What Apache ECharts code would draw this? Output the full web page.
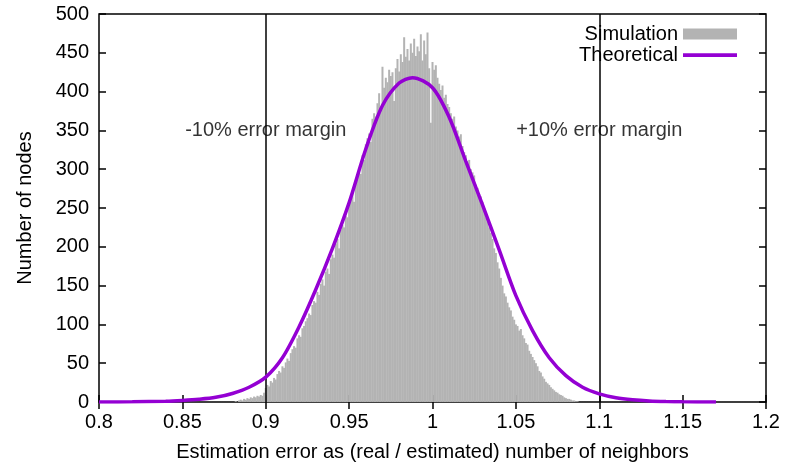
<!DOCTYPE html>
<html>
<head>
<meta charset="utf-8">
<script src="https://cdn.jsdelivr.net/npm/echarts@6/dist/echarts.min.js"></script>
</head>
<body style="margin:0;background:#fff;">
<div id="main" style="width:788px;height:470px;"></div>
<script type="text/javascript">
    // histogram of simulated nodes, bins of 0.001 starting at 0.882
    var binStart = 0.882;
    var binWidth = 0.001;
    var simCounts = [
        1, 0, 2, 3, 2, 4, 3, 5, 4, 6,
        5, 7, 6, 8, 7, 9, 8, 12, 18, 22,
        20, 27, 25, 31, 29, 36, 40, 38, 46, 44,
        51, 56, 53, 63, 68, 72, 70, 82, 86, 84,
        95, 98, 104, 108, 114, 112, 125, 130, 128, 142,
        138, 152, 158, 150, 168, 172, 165, 184, 190, 186,
        204, 210, 198, 222, 228, 225, 240, 238, 255, 262,
        270, 258, 286, 292, 300, 294, 318, 312, 332, 340,
        346, 335, 365, 372, 368, 385, 398, 380, 432, 405,
        418, 412, 428, 420, 425, 388, 430, 442, 426, 448,
        438, 470, 445, 455, 440, 462, 450, 468, 446, 458,
        452, 474, 440, 466, 448, 476, 430, 360, 438, 428,
        434, 418, 410, 402, 408, 392, 396, 384, 380, 372,
        365, 368, 355, 350, 342, 345, 330, 322, 318, 310,
        312, 300, 296, 292, 280, 276, 268, 265, 258, 250,
        238, 232, 225, 218, 210, 198, 192, 180, 172, 160,
        150, 140, 136, 128, 122, 118, 110, 106, 100, 98,
        92, 94, 86, 82, 76, 74, 66, 62, 58, 54,
        50, 46, 40, 38, 33, 30, 26, 24, 22, 19,
        17, 15, 13, 12, 10, 9, 8, 6, 5, 4,
        4, 3, 2, 2, 1, 1
    ];

    // theoretical curve
    var theoX = [0.80, 0.82, 0.84, 0.85, 0.86, 0.87, 0.88, 0.89, 0.90, 0.91,
        0.92, 0.93, 0.94, 0.95, 0.96, 0.97, 0.98, 0.988, 1.00, 1.01,
        1.02, 1.03, 1.04, 1.05, 1.06, 1.07, 1.08, 1.09, 1.10, 1.11,
        1.12, 1.13, 1.14, 1.15, 1.17];
    var theoY = [0, 0.3, 1, 2, 3.5, 6, 11, 19, 32, 57,
        97, 145, 198, 257, 326, 382, 411, 418, 405, 367,
        310, 254, 196, 137, 92, 57, 34, 19, 10.5, 5.5,
        2.8, 1.3, 0.6, 0.3, 0];

    var marginLines = [0.9, 1.1];
    var marginTexts = ['-10% error margin', '+10% error margin'];

    var xTicks = [0.8, 1.2, 0.05];
    var yTicks = [0, 500, 50];

    var barData = simCounts.map(function (v, i) {
        return [+(binStart + i * binWidth).toFixed(3), v];
    });
    var lineData = theoX.map(function (x, i) { return [x, theoY[i]]; });

    var font = "'Liberation Sans', Arial, sans-serif";
    var fs = 20;
    var tick = { inside: true, length: 7, lineStyle: { color: '#000', width: 1.5 } };
    // thin bar in the middle of the legend box, for the line sample
    var lineIcon = 'path://M0,0L0.01,0ZM0,11L0.01,11ZM0,3.8L54,3.8L54,7.4L0,7.4Z';

    var myChart = echarts.init(document.getElementById('main'));
    var option = {
        animation: false,
        textStyle: { fontFamily: font, color: '#000' },
        grid: {
            left: 99, right: 22, top: 14, bottom: 68,
            show: true, borderColor: '#000', borderWidth: 1.5
        },
        legend: {
            orient: 'vertical',
            right: 46,
            top: 19,
            align: 'right',
            itemWidth: 54,
            itemHeight: 11,
            itemGap: 1,
            textStyle: { fontFamily: font, fontSize: fs, color: '#000' },
            data: [
                { name: 'Simulation', icon: 'rect' },
                { name: 'Theoretical', icon: lineIcon }
            ]
        },
        xAxis: [{
            type: 'value',
            min: xTicks[0], max: xTicks[1], interval: xTicks[2],
            name: 'Estimation error as (real / estimated) number of neighbors',
            nameLocation: 'middle',
            nameGap: 40,
            nameTextStyle: { fontSize: fs, color: '#000' },
            axisLine: { show: false },
            axisTick: tick,
            axisLabel: {
                fontSize: fs, color: '#000', margin: 10,
                formatter: function (v) { return String(+v.toFixed(2)); }
            },
            splitLine: { show: false }
        }, {
            type: 'value', position: 'top',
            min: xTicks[0], max: xTicks[1], interval: xTicks[2],
            axisLine: { show: false },
            axisTick: tick,
            axisLabel: { show: false },
            splitLine: { show: false }
        }],
        yAxis: [{
            type: 'value',
            min: yTicks[0], max: yTicks[1], interval: yTicks[2],
            name: 'Number of nodes',
            nameLocation: 'middle',
            nameGap: 64,
            nameTextStyle: { fontSize: fs, color: '#000' },
            axisLine: { show: false },
            axisTick: tick,
            axisLabel: { fontSize: fs, color: '#000', margin: 10 },
            splitLine: { show: false }
        }, {
            type: 'value', position: 'right',
            min: yTicks[0], max: yTicks[1], interval: yTicks[2],
            axisLine: { show: false },
            axisTick: tick,
            axisLabel: { show: false },
            splitLine: { show: false }
        }],
        series: [
            {
                name: 'Simulation',
                type: 'bar',
                data: barData,
                barWidth: 2,
                itemStyle: { color: '#b3b3b3' },
                markLine: {
                    silent: true,
                    symbol: 'none',
                    label: { show: false },
                    lineStyle: { color: '#000', width: 1.5, type: 'solid' },
                    data: marginLines.map(function (x) { return { xAxis: x }; })
                }
            },
            {
                name: 'margins',
                type: 'scatter',
                symbolSize: 0,
                silent: true,
                data: marginLines.map(function (x, i) {
                    return { value: [x, 350], name: marginTexts[i] };
                }),
                label: {
                    show: true,
                    position: 'inside',
                    formatter: '{b}',
                    fontSize: fs,
                    color: '#000',
                    fontFamily: font
                }
            },
            {
                name: 'Theoretical',
                type: 'line',
                data: lineData,
                smooth: 0.3,
                symbol: 'none',
                z: 5,
                itemStyle: { color: '#9400d3' },
                lineStyle: { color: '#9400d3', width: 3.5 }
            }
        ]
    };
    myChart.setOption(option);
</script>
</body>
</html>
